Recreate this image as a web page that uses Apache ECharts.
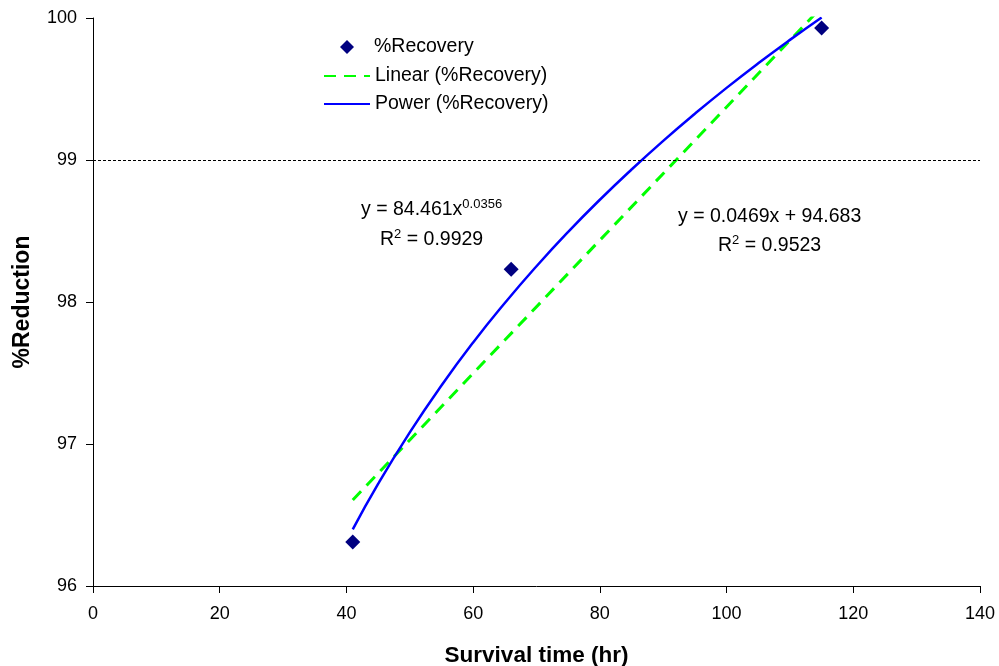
<!DOCTYPE html>
<html>
<head>
<meta charset="utf-8">
<script src="https://cdn.jsdelivr.net/npm/echarts@6/dist/echarts.min.js"></script>
<style>html,body{margin:0;padding:0;background:#fff}#c{width:999px;height:666px}</style>
</head>
<body>
<div id="c"></div>
<script>
// Observed data
var survivalTime = [41, 66, 115];
var recovery = [96.31, 98.23, 99.93];
// Linear trend (y = 0.0469x + 94.683), endpoints
var linearX = [41, 115];
var linearY = [96.606, 100.077];
// Power trend (y = 84.461x^0.0356), sampled values
var powerX = [41, 45, 50, 55, 60, 65, 70, 75, 80, 85, 90, 95, 100, 105, 110, 115];
var powerY = [96.399, 96.719, 97.082, 97.412, 97.715, 97.993, 98.252, 98.494, 98.720, 98.933, 99.135, 99.326, 99.508, 99.681, 99.846, 100.004];
var xTicks = [0, 20, 40, 60, 80, 100, 120, 140];
var yTicks = [96, 97, 98, 99, 100];
var refLine = 99;

function zip(a, b) { return a.map(function (v, i) { return [v, b[i]]; }); }

var FONT = '"Liberation Sans", Arial, sans-serif';
var TXT = 19.5, SUP = 13;
var chart = echarts.init(document.getElementById('c'), null, {renderer: 'canvas'});
chart.setOption({
  animation: false,
  backgroundColor: '#ffffff',
  grid: {left: 93, right: 19, top: 18, bottom: 80, containLabel: false, outerBoundsMode: 'none'},
  xAxis: {
    type: 'value', min: xTicks[0], max: xTicks[xTicks.length - 1], interval: 20,
    name: 'Survival time (hr)', nameLocation: 'middle', nameGap: 58,
    nameTextStyle: {fontFamily: FONT, fontSize: 22.5, fontWeight: 'bold', color: '#000'},
    axisLine: {show: true, onZero: false, lineStyle: {color: '#000', width: 1}},
    axisTick: {show: true, length: 7, lineStyle: {color: '#000'}},
    axisLabel: {fontFamily: FONT, fontSize: 18, color: '#000', margin: 19},
    splitLine: {show: false}
  },
  yAxis: {
    type: 'value', min: yTicks[0], max: yTicks[yTicks.length - 1], interval: 1,
    name: '%Reduction', nameLocation: 'middle', nameGap: 59, nameRotate: 90,
    nameTextStyle: {fontFamily: FONT, fontSize: 23, fontWeight: 'bold', color: '#000'},
    axisLine: {show: true, onZero: false, lineStyle: {color: '#000', width: 1}},
    axisTick: {show: true, length: 7, lineStyle: {color: '#000'}},
    axisLabel: {fontFamily: FONT, fontSize: 18, color: '#000', margin: 16},
    splitLine: {show: false}
  },
  legend: [
    {
      orient: 'vertical', left: 335, top: 32,
      itemWidth: 14, itemHeight: 14,
      textStyle: {fontFamily: FONT, fontSize: TXT, color: '#000', padding: [0, 0, 0, 15]},
      data: [{name: '%Recovery', icon: 'diamond', itemStyle: {color: '#000080', opacity: 1}}]
    },
    {
      orient: 'vertical', left: 318, top: 61,
      itemWidth: 46, itemHeight: 14, itemGap: 8,
      textStyle: {fontFamily: FONT, fontSize: TXT, color: '#000'},
      data: [
        {name: 'Linear (%Recovery)', itemStyle: {opacity: 0}},
        {name: 'Power (%Recovery)', itemStyle: {opacity: 0}}
      ]
    }
  ],
  series: [
    {
      name: 'Linear (%Recovery)', type: 'line', data: zip(linearX, linearY),
      symbol: 'none', clip: true,
      lineStyle: {color: '#00ff00', width: 3, type: [12, 8]},
      itemStyle: {color: '#00ff00'}, z: 2
    },
    {
      name: 'Power (%Recovery)', type: 'line', data: zip(powerX, powerY),
      symbol: 'none', smooth: true, clip: true,
      lineStyle: {color: '#0000ff', width: 2.5},
      itemStyle: {color: '#0000ff'}, z: 3
    },
    {
      name: '%Recovery', type: 'scatter', data: zip(survivalTime, recovery),
      symbol: 'diamond', symbolSize: 15,
      itemStyle: {color: '#000080', opacity: 1}, z: 4,
      markLine: {
        silent: true, symbol: 'none', label: {show: false},
        lineStyle: {color: '#000', width: 1, type: [3, 2]},
        data: [{yAxis: refLine}]
      }
    }
  ],
  graphic: [
    {type: 'text', x: 361, y: 210, style: {
      verticalAlign: 'middle',
      rich: {n: {fontFamily: FONT, fontSize: TXT, fill: '#000'}, s: {fontFamily: FONT, fontSize: SUP, fill: '#000', padding: [0, 0, 12, 0]}},
      text: '{n|y = 84.461x}{s|0.0356}'}},
    {type: 'text', x: 380, y: 240, style: {
      verticalAlign: 'middle',
      rich: {n: {fontFamily: FONT, fontSize: TXT, fill: '#000'}, s: {fontFamily: FONT, fontSize: SUP, fill: '#000', padding: [0, 0, 12, 0]}},
      text: '{n|R}{s|2}{n| = 0.9929}'}},
    {type: 'text', x: 678, y: 217, style: {
      verticalAlign: 'middle',
      fontFamily: FONT, fontSize: TXT, fill: '#000', text: 'y = 0.0469x + 94.683'}},
    {type: 'text', x: 718, y: 246, style: {
      verticalAlign: 'middle',
      rich: {n: {fontFamily: FONT, fontSize: TXT, fill: '#000'}, s: {fontFamily: FONT, fontSize: SUP, fill: '#000', padding: [0, 0, 12, 0]}},
      text: '{n|R}{s|2}{n| = 0.9523}'}}
  ]
});
</script>
</body>
</html>
